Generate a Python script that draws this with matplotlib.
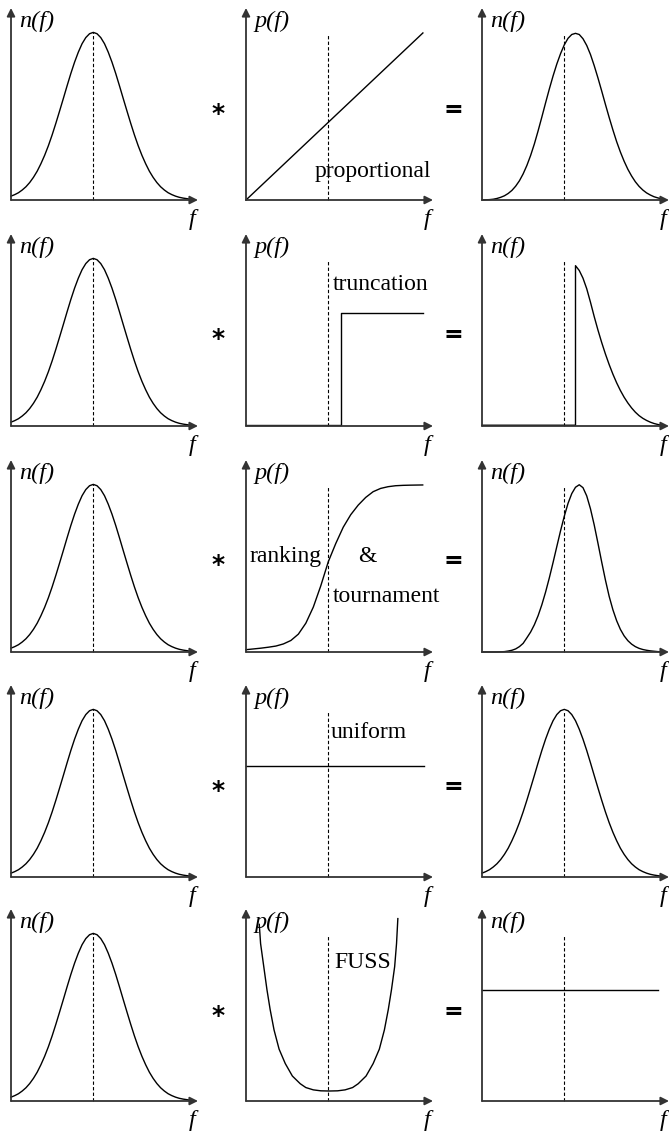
import matplotlib.pyplot as plt

W, H = 669, 1139

# sample positions along f, in axis units (origin 0, arrow tip 1)
f_grid = [0.00, 0.02, 0.04, 0.06, 0.08, 0.10, 0.12, 0.14, 0.16, 0.18,
          0.20, 0.22, 0.24, 0.26, 0.28, 0.30, 0.32, 0.34, 0.36, 0.38,
          0.40, 0.42, 0.44, 0.46, 0.48, 0.50, 0.52, 0.54, 0.56, 0.58,
          0.60, 0.62, 0.64, 0.66, 0.68, 0.70, 0.72, 0.74, 0.76, 0.78,
          0.80, 0.82, 0.84, 0.86, 0.88, 0.90, 0.92, 0.94, 0.96]

# population before selection (left column, every row)
n_before = [0.020, 0.028, 0.038, 0.052, 0.069, 0.091, 0.118, 0.150, 0.189, 0.233,
            0.283, 0.339, 0.400, 0.464, 0.529, 0.595, 0.659, 0.718, 0.770, 0.814,
            0.846, 0.866, 0.873, 0.866, 0.846, 0.814, 0.770, 0.718, 0.659, 0.595,
            0.529, 0.464, 0.400, 0.339, 0.283, 0.233, 0.189, 0.150, 0.118, 0.091,
            0.069, 0.052, 0.038, 0.028, 0.020, 0.014, 0.010, 0.007, 0.004]

# selection probability p(f) for each scheme (middle column)
p_prop_f = [0.0, 0.946]
p_prop = [0.0, 0.87]

p_trunc_f = [0.0, 0.506, 0.506, 0.945]
p_trunc = [0.004, 0.004, 0.59, 0.59]

p_rank_f = [0.00, 0.04, 0.08, 0.12, 0.16, 0.20, 0.24, 0.28, 0.32, 0.36, 0.40, 0.44,
            0.48, 0.52, 0.56, 0.60, 0.64, 0.68, 0.72, 0.76, 0.80, 0.84, 0.88, 0.945]
p_rank = [0.012, 0.016, 0.020, 0.025, 0.031, 0.042, 0.060, 0.093, 0.150, 0.234, 0.345, 0.470,
          0.565, 0.650, 0.715, 0.765, 0.805, 0.835, 0.852, 0.861, 0.866, 0.868, 0.869, 0.870]

p_unif_f = [0.0, 0.95]
p_unif = [0.58, 0.58]

p_fuss_f = [0.071, 0.078, 0.095, 0.112, 0.129, 0.150, 0.177, 0.210, 0.248, 0.290, 0.320, 0.360,
            0.400, 0.445, 0.490, 0.530, 0.570, 0.600, 0.642, 0.680, 0.713, 0.740, 0.761, 0.778,
            0.795, 0.805, 0.812]
p_fuss = [0.92, 0.82, 0.70, 0.58, 0.477, 0.37, 0.27, 0.195, 0.13, 0.09, 0.07, 0.058,
          0.053, 0.052, 0.053, 0.058, 0.07, 0.09, 0.13, 0.195, 0.27, 0.37, 0.477, 0.58,
          0.70, 0.82, 0.95]

# population after selection (right column)
n_prop = [0.000, 0.001, 0.002, 0.004, 0.008, 0.014, 0.022, 0.034, 0.050, 0.072,
          0.100, 0.136, 0.180, 0.232, 0.292, 0.360, 0.432, 0.506, 0.578, 0.646,
          0.708, 0.762, 0.808, 0.842, 0.862, 0.868, 0.862, 0.840, 0.805, 0.758,
          0.700, 0.636, 0.568, 0.498, 0.430, 0.365, 0.304, 0.250, 0.202, 0.160,
          0.125, 0.095, 0.071, 0.052, 0.037, 0.026, 0.017, 0.011, 0.006]

n_trunc_f = [0.00, 0.50, 0.50, 0.52, 0.54, 0.56, 0.58, 0.60, 0.62, 0.64, 0.66, 0.68,
             0.70, 0.72, 0.74, 0.76, 0.78, 0.80, 0.82, 0.84, 0.86, 0.88, 0.90, 0.92,
             0.94, 0.96]
n_trunc = [0.004, 0.004, 0.835, 0.810, 0.770, 0.715, 0.645, 0.570, 0.500, 0.435, 0.375, 0.320,
           0.270, 0.225, 0.185, 0.150, 0.120, 0.094, 0.072, 0.054, 0.040, 0.029, 0.020, 0.013,
           0.008, 0.004]

n_rank = [0.000, 0.000, 0.000, 0.000, 0.000, 0.001, 0.002, 0.005, 0.009, 0.016,
          0.028, 0.045, 0.074, 0.104, 0.142, 0.189, 0.246, 0.312, 0.386, 0.466,
          0.549, 0.631, 0.707, 0.774, 0.825, 0.858, 0.871, 0.856, 0.813, 0.746,
          0.662, 0.567, 0.469, 0.375, 0.290, 0.220, 0.163, 0.118, 0.084, 0.059,
          0.041, 0.028, 0.019, 0.013, 0.009, 0.006, 0.004, 0.002, 0.001]

n_unif = n_before

n_fuss_f = [0.0, 0.94]
n_fuss = [0.58, 0.58]

rows = [
    dict(p=(p_prop_f, p_prop), n=(f_grid, n_prop), labels=[("proportional", 0.369, 0.12)]),
    dict(p=(p_trunc_f, p_trunc), n=(n_trunc_f, n_trunc), labels=[("truncation", 0.465, 0.708)]),
    dict(p=(p_rank_f, p_rank), n=(f_grid, n_rank),
         labels=[("ranking", 0.021, 0.469), ("&", 0.60, 0.469), ("tournament", 0.465, 0.26)]),
    dict(p=(p_unif_f, p_unif), n=(f_grid, n_unif), labels=[("uniform", 0.455, 0.724)]),
    dict(p=(p_fuss_f, p_fuss), n=(n_fuss_f, n_fuss), labels=[("FUSS", 0.47, 0.693)]),
]

col_left = [11, 246, 482]
row_base = [200, 426, 652, 877, 1101]
AX_W, AX_H = 187, 192
AXIS_C = '#333333'
SERIF = 'Liberation Serif'
F_MID = 0.44

fig = plt.figure(figsize=(W / 100, H / 100), dpi=100)


def panel(r, c, fx, fy, ylabel, dash_top):
    ax = fig.add_axes([col_left[c] / W, 1 - row_base[r] / H, AX_W / W, AX_H / H])
    ax.set_xlim(0, 1)
    ax.set_ylim(0, 1)
    ax.axis('off')
    arrow = dict(arrowstyle='-|>', color=AXIS_C, lw=1.3, mutation_scale=12,
                 shrinkA=0, shrinkB=0)
    ax.annotate('', xy=(1, 0), xytext=(0, 0), arrowprops=arrow, annotation_clip=False)
    ax.annotate('', xy=(0, 1), xytext=(0, 0), arrowprops=arrow, annotation_clip=False)
    ax.plot([F_MID, F_MID], [0, dash_top], color='k', lw=0.8, ls=(0, (3, 2)), clip_on=False)
    ax.plot(fx, fy, color='k', lw=1.0, clip_on=False, solid_joinstyle='round')
    ax.text(0.045, 0.90, ylabel, fontsize=17.5, family=SERIF, style='italic', va='baseline')
    ax.text(0.97, -0.13, 'f', fontsize=17.5, family=SERIF, style='italic',
            ha='center', va='baseline')
    return ax


for r, row in enumerate(rows):
    panel(r, 0, f_grid, n_before, 'n(f)', 0.873)
    ax = panel(r, 1, row['p'][0], row['p'][1], 'p(f)', 0.865)
    for txt, x, y in row['labels']:
        ax.text(x, y, txt, fontsize=17, family=SERIF, va='baseline')
    panel(r, 2, row['n'][0], row['n'][1], 'n(f)', 0.865)

    y_op = 112 + 225.5 * r
    fig.text(218 / W, 1 - (y_op + 2) / H, '*', fontsize=18, weight='bold',
             family='DejaVu Sans', ha='center', va='center')
    fig.text(453 / W, 1 - (y_op - 2) / H, '=', fontsize=17, weight='bold',
             family='DejaVu Sans', ha='center', va='center')

fig.savefig('out.png', dpi=100)
